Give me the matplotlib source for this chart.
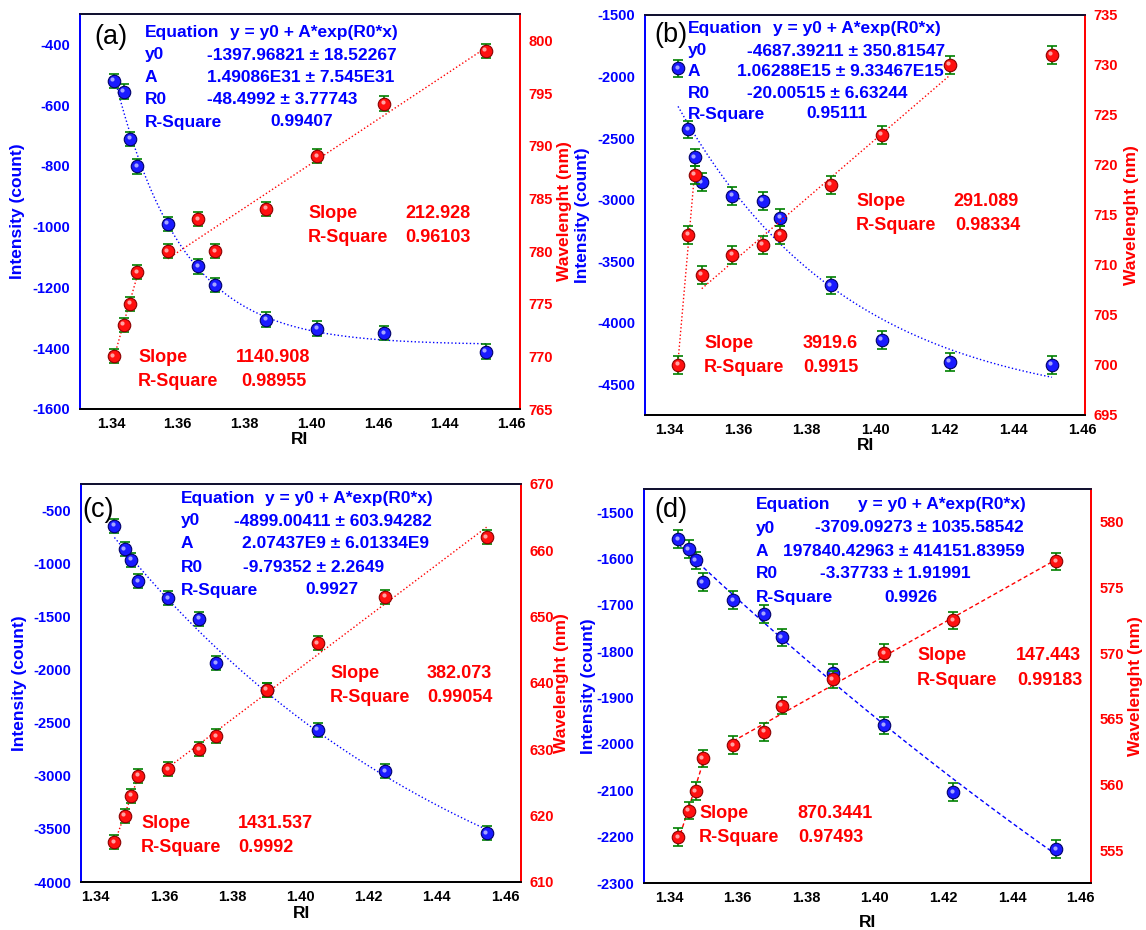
import numpy as np
import matplotlib
matplotlib.use("Agg")
import matplotlib.pyplot as plt
from matplotlib.transforms import offset_copy

plt.rcParams['font.family'] = ['Liberation Sans', 'DejaVu Sans']
plt.rcParams['axes.unicode_minus'] = False

W, H = 1146, 930

# ---- data ----
ri_a = [1.3408, 1.3438, 1.3458, 1.3479, 1.3570, 1.3662, 1.3712, 1.3865, 1.4018, 1.4219, 1.4524]
int_a = [-520, -556, -711, -801, -991, -1131, -1192, -1306, -1336, -1350, -1411]
wl_a = [770, 773, 775, 778, 780, 783, 780, 784, 789, 794, 799]

ri_b = [1.3426, 1.3456, 1.3475, 1.3495, 1.3584, 1.3673, 1.3723, 1.3870, 1.4018, 1.4216, 1.4513]
int_b = [-1933, -2429, -2656, -2857, -2970, -3011, -3146, -3696, -4140, -4319, -4343]
wl_b = [700, 713, 719, 709, 711, 712, 713, 718, 723, 730, 731]

ri_c = [1.3455, 1.3485, 1.3505, 1.3525, 1.3613, 1.3703, 1.3753, 1.3902, 1.4051, 1.4249, 1.4546]
int_c = [-641, -861, -962, -1163, -1326, -1519, -1936, -2187, -2564, -2954, -3541]
wl_c = [616, 620, 623, 626, 627, 630, 632, 639, 646, 653, 662]

ri_d = [1.3427, 1.3458, 1.3478, 1.3498, 1.3587, 1.3678, 1.3728, 1.3877, 1.4028, 1.4228, 1.4528]
int_d = [-1558, -1580, -1604, -1651, -1690, -1720, -1770, -1846, -1960, -2104, -2227]
wl_d = [556, 558, 559.5, 562, 563, 564, 566, 568, 570, 572.5, 577]

# error bar half widths (intensity, wavelength)
err_a = (24, 0.67)
err_b = (70, 0.87)
err_c = (66, 1.05)
err_d = (19, 0.66)

# which points belong to each linear wavelength segment
seg_a = [(0, 4), (4, 11)]
seg_b = [(0, 3), (3, 10)]
seg_c = [(0, 4), (4, 11)]
seg_d = [(0, 4), (4, 11)]

eq_a = ["-1397.96821 ± 18.52267", "1.49086E31 ± 7.545E31", "-48.4992 ± 3.77743", "0.99407"]
eq_b = ["-4687.39211 ± 350.81547", "1.06288E15 ± 9.33467E15", "-20.00515 ± 6.63244", "0.95111"]
eq_c = ["-4899.00411 ± 603.94282", "2.07437E9 ± 6.01334E9", "-9.79352 ± 2.2649", "0.9927"]
eq_d = ["-3709.09273 ± 1035.58542", "197840.42963 ± 414151.83959", "-3.37733 ± 1.91991", "0.9926"]

lin_a = [("1140.908", "0.98955"), ("212.928", "0.96103")]
lin_b = [("3919.6", "0.9915"), ("291.089", "0.98334")]
lin_c = [("1431.537", "0.9992"), ("382.073", "0.99054")]
lin_d = [("870.3441", "0.97493"), ("147.443", "0.99183")]

xt = [1.34, 1.36, 1.38, 1.40, 1.42, 1.44, 1.46]
xt_lab = ['1.34', '1.36', '1.38', '1.40', '1.42', '1.44', '1.46']
xt_lab_a = ['1.34', '1.36', '1.38', '1.40', '1.46', '1.44', '1.46']


def exp_fit(x, y):
    # least squares y = y0 + A*exp(R0*x), grid over R0
    x = np.asarray(x, float)
    y = np.asarray(y, float)
    best = None
    for r0 in np.linspace(-120, -0.2, 3000):
        e = np.exp(r0 * (x - x[0]))
        M = np.column_stack([np.ones_like(x), e])
        coef = np.linalg.lstsq(M, y, rcond=None)[0]
        r = np.sum((M @ coef - y) ** 2)
        if best is None or r < best[0]:
            best = (r, r0, coef)
    _, r0, coef = best
    return lambda t: coef[0] + coef[1] * np.exp(r0 * (t - x[0]))


fig = plt.figure(figsize=(W / 100, H / 100), dpi=100)


def px(x, y):
    return x / W, 1 - y / H


def txt(x, y, s, color, size=12.5, weight='bold'):
    fx, fy = px(x, y)
    fig.text(fx, fy, s, color=color, fontsize=size, fontweight=weight,
             ha='left', va='center')


def balls(ax, x, y, face, edge, hi):
    ax.plot(x, y, 'o', ms=9, mfc=face, mec=edge, mew=0.8, zorder=4)
    tr = offset_copy(ax.transData, fig=fig, x=-1.5, y=1.5, units='dots')
    ax.plot(x, y, 'o', ms=3, mfc=hi, mec='none', alpha=0.8, transform=tr, zorder=5)


def panel(box, ri, inten, wl, err, segs, xlim, ylim1, yt1, ylim2, yt2,
          xlabels, ls, lab_x, ri_y):
    l, t, r, b = box
    ax = fig.add_axes([l / W, 1 - b / H, (r - l) / W, (b - t) / H])
    ax2 = ax.twinx()
    ri = np.array(ri)

    # fitted exponential on intensity
    f = exp_fit(ri, inten)
    xx = np.linspace(ri[0], ri[-1], 200)
    ax.plot(xx, f(xx), color='blue', ls=ls, lw=1.0, zorder=2)
    ax.errorbar(ri, inten, yerr=err[0], fmt='none', ecolor='#008000',
                elinewidth=1.2, capsize=3.5, capthick=1.2, zorder=3)
    balls(ax, ri, inten, '#1a1aff', '#00006a', '#c8c8ff')

    # two linear segments on wavelength
    for i0, i1 in segs:
        k, c = np.polyfit(ri[i0:i1], wl[i0:i1], 1)
        xs = np.array([ri[i0], ri[i1 - 1]])
        ax2.plot(xs, k * xs + c, color='red', ls=ls, lw=1.0, zorder=2)
    ax2.errorbar(ri, wl, yerr=err[1], fmt='none', ecolor='#008000',
                 elinewidth=1.2, capsize=3.5, capthick=1.2, zorder=3)
    balls(ax2, ri, wl, '#ff1010', '#8b0000', '#ffc8c8')

    ax.set_xlim(*xlim)
    ax.set_ylim(*ylim1)
    ax.set_yticks(yt1)
    ax2.set_ylim(*ylim2)
    ax2.set_yticks(yt2)
    ax.set_xticks(xt)
    ax.set_xticklabels(xlabels)

    ax.tick_params(axis='x', length=0, pad=6, labelsize=10.5, labelcolor='black')
    ax.tick_params(axis='y', length=0, pad=7, labelsize=10.5, labelcolor='blue')
    ax2.tick_params(axis='y', length=0, pad=6, labelsize=10.5, labelcolor='red')
    for a in (ax, ax2):
        for lab in a.get_xticklabels() + a.get_yticklabels():
            lab.set_fontweight('bold')
        for s in a.spines.values():
            s.set_linewidth(1.3)
            s.set_color('black')
        a.spines['left'].set_color('blue')
        a.spines['right'].set_color('red')
        a.spines['top'].set_color('#101030')

    ax.set_xlabel('RI', fontsize=12.5, fontweight='bold', va='center')
    ax.xaxis.set_label_coords(0.5, ri_y)
    ax.set_ylabel('Intensity (count)', fontsize=12.5, fontweight='bold',
                  color='blue', va='center')
    ax.yaxis.set_label_coords(lab_x[0], 0.5)
    ax2.set_ylabel('Wavelenght (nm)', fontsize=12.5, fontweight='bold',
                   color='red', va='center')
    ax2.yaxis.set_label_coords(lab_x[1], 0.5)
    return ax, ax2


panel((80, 14, 520, 409), ri_a, int_a, wl_a, err_a, seg_a, (1.3307, 1.4626),
      (-1600, -300), np.arange(-1600, -399, 200), (765, 802.5), np.arange(765, 801, 5),
      xt_lab_a, ':', (-0.141, 1.102), -0.076)
panel((645, 15, 1085, 415), ri_b, int_b, wl_b, err_b, seg_b, (1.333, 1.4609),
      (-4750, -1500), np.arange(-4500, -1499, 500), (695, 735), np.arange(695, 736, 5),
      xt_lab, ':', (-0.141, 1.105), -0.075)
panel((81, 484, 521, 882), ri_c, int_c, wl_c, err_c, seg_c, (1.3357, 1.4647),
      (-4000, -247), np.arange(-4000, -499, 500), (610, 670), np.arange(610, 671, 10),
      xt_lab, ':', (-0.139, 1.093), -0.078)
panel((644, 489, 1091, 883), ri_d, int_d, wl_d, err_d, seg_d, (1.3327, 1.463),
      (-2300, -1450), np.arange(-2300, -1499, 100), (552.5, 582.5), np.arange(555, 581, 5),
      xt_lab, (0, (3, 2)), (-0.125, 1.10), -0.10)

# ---- panel letters and fit reports ----
for letter, (x, y) in zip(['(a)', '(b)', '(c)', '(d)'],
                          [(94, 37), (654, 35), (82, 510), (654, 510)]):
    txt(x, y, letter, 'black', size=19.5, weight='normal')


def eq_block(x0, x_eq, x_val, x_A, x_R0, x_r2, ys, vals):
    txt(x0, ys[0], 'Equation', 'blue')
    txt(x_eq, ys[0], 'y = y0 + A*exp(R0*x)', 'blue')
    for name, xv, yy, v in zip(['y0', 'A', 'R0', 'R-Square'],
                               [x_val, x_A, x_R0, x_r2], ys[1:], vals):
        txt(x0, yy, name, 'blue')
        txt(xv, yy, v, 'blue')


eq_block(145, 230, 207, 207, 207, 270, [32, 55, 77, 100, 122], eq_a)
eq_block(688, 773, 747, 737, 747, 806, [29, 51, 72, 93, 114], eq_b)
eq_block(181, 265, 234, 242, 243, 305, [498, 521, 544, 567, 590], eq_c)
eq_block(756, 858, 815, 783, 820, 884, [505, 528, 551, 574, 597], eq_d)


def lin_block(x0, xv1, xv2, y, vals):
    txt(x0, y, 'Slope', 'red', size=13)
    txt(xv1, y, vals[0], 'red', size=13)
    txt(x0, y + 24, 'R-Square', 'red', size=13)
    txt(xv2, y + 24, vals[1], 'red', size=13)


lin_block(138, 236, 241, 357, lin_a[0])
lin_block(308, 405, 405, 213, lin_a[1])
lin_block(704, 803, 803, 343, lin_b[0])
lin_block(856, 953, 955, 202, lin_b[1])
lin_block(141, 238, 238, 823, lin_c[0])
lin_block(330, 427, 427, 673, lin_c[1])
lin_block(699, 797, 798, 813, lin_d[0])
lin_block(917, 1016, 1017, 656, lin_d[1])

fig.savefig('out.png', dpi=100)
